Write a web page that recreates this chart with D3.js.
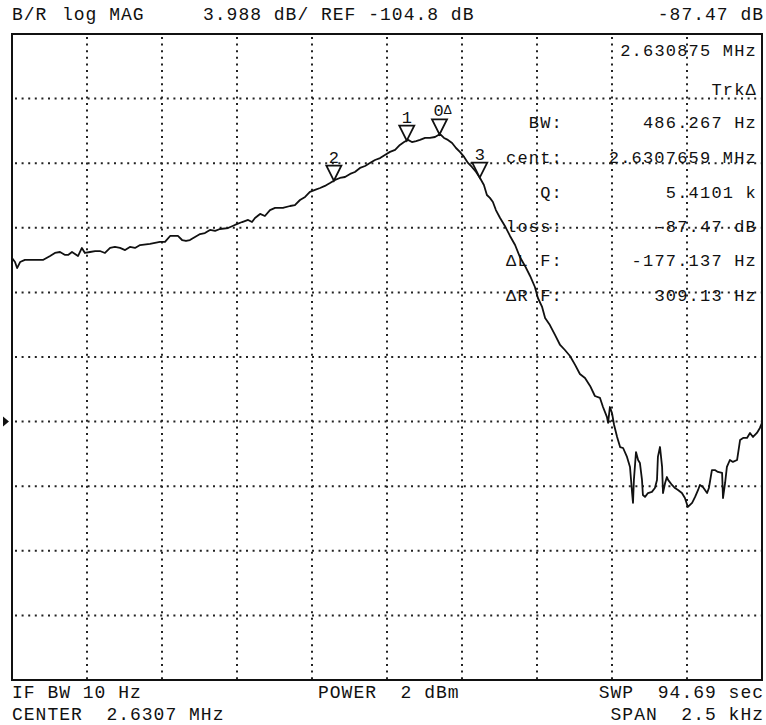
<!DOCTYPE html>
<html>
<head>
<meta charset="utf-8">
<script src="https://cdn.jsdelivr.net/npm/d3@7"></script>
<style>
  body { margin: 0; background: #fff; }
  svg text { font-family: "Liberation Mono", "DejaVu Sans Mono", monospace; fill: #111; white-space: pre; }
</style>
</head>
<body>
<div id="chart"></div>
<script>
// network analyzer trace, B/R log MAG
// x = offset from CENTER 2.6307 MHz (Hz), y = magnitude (dB)
const freqOffsetHz = [
  -1250, -1240, -1233, -1223, -1207, -1180, -1147, -1123, -1107, -1090,
  -1073, -1063, -1050, -1040, -1030, -1017, -1007, -990, -973, -957,
  -940, -923, -907, -890, -873, -857, -840, -823, -790, -757,
  -740, -723, -697, -683, -670, -657, -640, -623, -607, -590,
  -573, -557, -530, -507, -483, -463, -450, -440, -423, -407,
  -390, -373, -347, -323, -307, -290, -273, -257, -240, -223,
  -207, -190, -173, -157, -140, -123, -107, -90, -73, -57,
  -40, -23, -7, 10, 27, 43, 57, 70, 83, 97,
  110, 127, 143, 160, 177, 190, 203, 217, 230, 243,
  257, 270, 283, 297, 310, 323, 333, 343, 353, 363,
  377, 393, 410, 427, 443, 460, 477, 493, 503, 517,
  527, 543, 560, 577, 593, 610, 627, 643, 660, 677,
  693, 710, 720, 733, 737, 743, 750, 757, 767, 777,
  787, 800, 810, 817, 820, 823, 830, 837, 843, 850,
  853, 860, 870, 883, 893, 900, 903, 910, 917, 920,
  927, 933, 937, 950, 960, 970, 983, 993, 1003, 1017,
  1027, 1037, 1043, 1053, 1067, 1073, 1083, 1093, 1103, 1117,
  1120, 1127, 1133, 1143, 1153, 1167, 1177, 1187, 1200, 1210,
  1220, 1233, 1243, 1250
];
const magDb = [
  -94.70, -94.95, -95.32, -94.95, -94.82, -94.82, -94.82, -94.58, -94.39, -94.33,
  -94.51, -94.51, -94.33, -94.45, -94.58, -94.08, -94.39, -94.33, -94.27, -94.27,
  -94.39, -94.08, -94.02, -94.08, -94.21, -94.02, -94.08, -93.90, -93.83, -93.71,
  -93.71, -93.34, -93.34, -93.59, -93.65, -93.59, -93.40, -93.22, -93.16, -92.97,
  -93.03, -92.91, -92.85, -92.66, -92.48, -92.35, -92.48, -92.23, -91.98, -92.11,
  -91.74, -91.61, -91.61, -91.49, -91.43, -91.12, -90.93, -90.62, -90.50, -90.38,
  -90.25, -90.07, -89.88, -89.76, -89.70, -89.51, -89.39, -89.14, -89.02, -88.83,
  -88.65, -88.53, -88.34, -88.15, -88.03, -87.72, -87.54, -87.41, -87.54, -87.48,
  -87.41, -87.29, -87.29, -87.23, -87.05, -87.29, -87.41, -87.60, -87.91, -88.15,
  -88.46, -88.83, -89.08, -89.39, -89.76, -90.19, -90.81, -90.99, -91.24, -91.74,
  -92.23, -92.72, -93.34, -93.90, -94.64, -95.19, -95.81, -96.49, -97.17, -97.72,
  -98.40, -98.84, -99.45, -100.07, -100.38, -100.75, -101.30, -101.86, -102.11, -102.60,
  -103.22, -103.34, -103.90, -104.51, -104.88, -103.90, -104.27, -105.01, -105.75, -106.37,
  -106.43, -106.98, -107.60, -109.21, -109.82, -108.40, -106.68, -107.17, -107.35, -108.40,
  -109.33, -109.45, -109.21, -109.14, -108.90, -108.40, -106.98, -106.37, -107.60, -109.21,
  -108.59, -108.22, -108.40, -108.71, -108.90, -109.02, -109.21, -109.52, -110.07, -109.82,
  -109.45, -109.02, -108.71, -108.84, -109.21, -108.90, -107.79, -107.79, -107.91, -107.97,
  -109.52, -108.59, -107.60, -107.17, -107.29, -107.17, -105.93, -105.81, -105.81, -105.50,
  -105.75, -105.50, -105.19, -104.88
];

const SPAN_HZ = 2500;
const REF_DB = -104.8;
const DIV_DB = 3.988;
const REF_POS = 6;   // divisions below the top
const N_DIV = 10;

// markers
const markerIds = ["0", "1", "2", "3"];
const markerOffsetHz = [175, 65.9, -177.137, 309.13];

// readout panel (right side, inside grid)
const readLabels = ["", "", "BW:", "cent:", "Q:", "loss:", "\u0394L F:", "\u0394R F:"];
const readValues = ["2.630875 MHz", "Trk\u0394", "486.267 Hz", "2.6307659 MHz", "5.4101 k", "-87.47 dB", "-177.137 Hz", "309.13 Hz"];

// annotation lines
const headerTexts = ["B/R", "log MAG", "3.988 dB/ REF -104.8 dB", "-87.47 dB"];
const footerTexts = ["IF BW 10 Hz", "POWER  2 dBm", "SWP  94.69 sec", "CENTER  2.6307 MHz", "SPAN  2.5 kHz"];

const width = 766, height = 725;
const margin = {top: 34, right: 4, bottom: 45, left: 12};

const svg = d3.select("#chart").append("svg")
  .attr("width", width)
  .attr("height", height);

const xScale = d3.scaleLinear()
  .domain([-SPAN_HZ / 2, SPAN_HZ / 2])
  .range([margin.left, width - margin.right]);

const yScale = d3.scaleLinear()
  .domain([REF_DB - (N_DIV - REF_POS) * DIV_DB, REF_DB + REF_POS * DIV_DB])
  .range([height - margin.bottom, margin.top]);

// grid
const xTicks = d3.range(1, N_DIV).map(i => -SPAN_HZ / 2 + i * SPAN_HZ / N_DIV);
const yTicks = d3.range(1, N_DIV).map(i => yScale.domain()[0] + i * DIV_DB);

const grid = svg.append("g").attr("class", "grid")
  .attr("stroke", "#222").attr("stroke-width", 2).attr("stroke-dasharray", "2,4.6");

grid.selectAll(".vline").data(xTicks).join("line")
  .attr("x1", d => xScale(d)).attr("x2", d => xScale(d))
  .attr("y1", margin.top + 3).attr("y2", height - margin.bottom);

grid.selectAll(".hline").data(yTicks).join("line")
  .attr("x1", margin.left + 3).attr("x2", width - margin.right)
  .attr("y1", d => yScale(d)).attr("y2", d => yScale(d));

// frame
svg.append("rect")
  .attr("x", margin.left).attr("y", margin.top)
  .attr("width", width - margin.left - margin.right)
  .attr("height", height - margin.top - margin.bottom)
  .attr("fill", "none").attr("stroke", "#111").attr("stroke-width", 2);

// reference position arrow
const yRef = yScale(REF_DB);
svg.append("path")
  .attr("d", `M3,${yRef - 5}L9,${yRef}L3,${yRef + 5}Z`)
  .attr("fill", "#111");

// trace
const trace = freqOffsetHz.map((f, i) => ({f: f, db: magDb[i]}));
const line = d3.line()
  .x(d => xScale(d.f))
  .y(d => yScale(d.db));

svg.append("path")
  .datum(trace)
  .attr("d", line)
  .attr("fill", "none")
  .attr("stroke", "#111")
  .attr("stroke-width", 1.8)
  .attr("stroke-linejoin", "round");

// marker value on the trace
function traceAt(f) {
  const i = d3.bisector(d => d.f).left(trace, f);
  if (i <= 0) return trace[0].db;
  if (i >= trace.length) return trace[trace.length - 1].db;
  const a = trace[i - 1], b = trace[i];
  return a.db + (b.db - a.db) * (f - a.f) / (b.f - a.f);
}

const markers = svg.append("g").selectAll("g")
  .data(markerIds.map((id, i) => ({id: id, f: markerOffsetHz[i]})))
  .join("g")
  .attr("transform", d => `translate(${xScale(d.f)},${yScale(traceAt(d.f))})`);

markers.append("path")
  .attr("d", "M0,0L-7.5,-15L7.5,-15Z")
  .attr("fill", "#fff").attr("stroke", "#111").attr("stroke-width", 1.8);

markers.append("text")
  .attr("y", -18)
  .attr("text-anchor", d => d.id === "0" ? "start" : "middle")
  .attr("x", d => d.id === "0" ? -6 : 0)
  .attr("font-size", 17)
  .text(d => d.id)
  .filter(d => d.id === "0")
  .append("tspan").attr("font-size", 13).attr("dy", -2).text("\u0394");

// readout
const readY = [56, 95, 128, 163, 198, 232, 266, 301];
const readout = svg.append("g").attr("font-size", 17).attr("letter-spacing", 1.2);
readout.selectAll(".lab").data(readLabels).join("text")
  .attr("x", 563).attr("y", (d, i) => readY[i])
  .attr("text-anchor", "end").text(d => d);
readout.selectAll(".val").data(readValues).join("text")
  .attr("x", 757).attr("y", (d, i) => readY[i])
  .attr("text-anchor", "end").text(d => d);

// header and footer
const ann = svg.append("g").attr("font-size", 18).attr("letter-spacing", 1);
const headerPos = [[12, "start"], [62, "start"], [203, "start"], [764, "end"]];
ann.selectAll(".hdr").data(headerTexts).join("text")
  .attr("x", (d, i) => headerPos[i][0]).attr("y", 20)
  .attr("text-anchor", (d, i) => headerPos[i][1])
  .text(d => d);

const footerPos = [[12, 698, "start"], [318, 698, "start"], [764, 698, "end"], [12, 720, "start"], [764, 720, "end"]];
ann.selectAll(".ftr").data(footerTexts).join("text")
  .attr("x", (d, i) => footerPos[i][0]).attr("y", (d, i) => footerPos[i][1])
  .attr("text-anchor", (d, i) => footerPos[i][2])
  .text(d => d);
</script>
</body>
</html>
